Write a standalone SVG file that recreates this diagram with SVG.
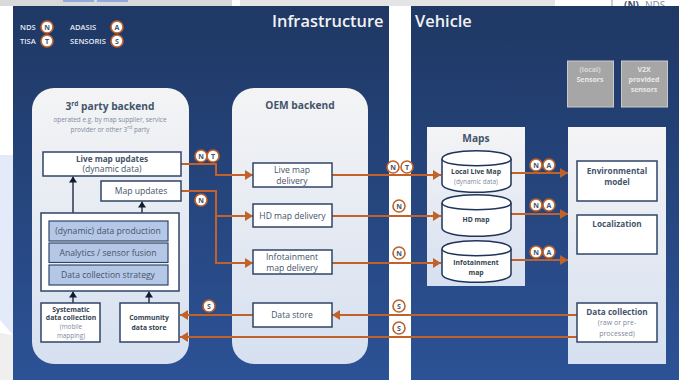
<svg xmlns="http://www.w3.org/2000/svg" width="679" height="380" viewBox="0 0 679 380">
<defs>
<linearGradient id="bg" x1="0" y1="0" x2="0" y2="1"><stop offset="0" stop-color="#1f3864"/><stop offset="1" stop-color="#2c5296"/></linearGradient>
<linearGradient id="pn" x1="0" y1="0" x2="0" y2="1"><stop offset="0" stop-color="#f4f4f5"/><stop offset="1" stop-color="#d6e0f0"/></linearGradient>
<marker id="oa" markerUnits="userSpaceOnUse" markerWidth="10" markerHeight="10" refX="8" refY="5" orient="auto"><path d="M0 0L8 5L0 10Z" fill="#c0622a"/></marker>
<marker id="ka" markerUnits="userSpaceOnUse" markerWidth="8" markerHeight="8" refX="6" refY="4" orient="auto"><path d="M0 0L6 4L0 8Z" fill="#111a2e"/></marker>
</defs>
<style>
text{font-family:"Open Sans","Liberation Sans",sans-serif;text-anchor:middle}
.panel{fill:url(#pn)}
.box{fill:#fff;stroke:#2f4468;stroke-width:1.5}
.bar{fill:#b4c7e7;stroke:#2f4468;stroke-width:1.2}
.t{font-size:8.6px;fill:#44546a}
.b{font-size:8.2px;fill:#44546a;font-weight:700}
.s{font-size:6.8px;fill:#333f50;font-weight:700}
.g{font-size:7px;fill:#7f8a9c}
.gs{font-size:6.4px;fill:#7f8a9c}
.h{font-size:10.2px;fill:#44546a;font-weight:700}
.w{font-size:16.400px;fill:#f2f2f2;font-weight:600;text-anchor:start}
.lg{font-size:7.6px;fill:#e7ebf3;font-weight:600;text-anchor:start}
.sn{fill:#a6a6a6;stroke:#c9c9c9}
.snt{font-size:7px;fill:#e8e8e8;font-weight:700}
.o{fill:none;stroke:#c0622a;stroke-width:2}
.k{fill:none;stroke:#111a2e;stroke-width:1.3;marker-end:url(#ka)}
.bd circle{fill:#fff;stroke:#c0622a;stroke-width:1.6}
.bd text{font-size:7px;font-weight:700;fill:#44546a}
.cyl{fill:#fff;stroke:#1f3458;stroke-width:1.5}
</style>
<rect width="679" height="380" fill="#fff"/>
<g id="page-edge">
<rect x="0" y="0" width="232" height="6" fill="#d9d9d9"/>
<rect x="240" y="0" width="315" height="6" fill="#e4e4e4"/>
<rect x="63" y="0" width="31" height="2" fill="#8faadc"/>
<rect x="97" y="0" width="31" height="2" fill="#8faadc"/>
<path d="M0 155H13V335L0 320Z" fill="#e3ebfb"/>
<path d="M0 333L13 335V380H0Z" fill="#efefef"/>
<text x="624" y="9" font-size="10" fill="#44546a" style="text-anchor:start;font-weight:700">(N)</text>
<text x="645" y="9" font-size="10" fill="#7f8a9c" style="text-anchor:start">NDS</text>
<path d="M612 0V6" stroke="#999" fill="none"/>
</g>
<g id="panels">
<rect x="13" y="6" width="376" height="374" fill="url(#bg)"/>
<rect x="411" y="6" width="268" height="374" fill="url(#bg)"/>
</g>
<g id="titles">
<text class="w" x="272" y="27">Infrastructure</text>
<text class="w" x="415" y="27">Vehicle</text>
</g>
<g id="legend">
<text class="lg" x="20" y="30">NDS</text>
<text class="lg" x="20" y="44">TISA</text>
<text class="lg" x="70" y="30">ADASIS</text>
<text class="lg" x="70" y="44">SENSORIS</text>
</g>
<g id="third-party-backend">
<rect class="panel" x="32" y="88" width="157" height="276" rx="22"/>
<text class="h" x="110" y="110">3<tspan font-size="6.500" dy="-4">rd</tspan><tspan dy="4"> party backend</tspan></text>
<text class="gs" x="110" y="122">operated e.g. by map supplier, service</text>
<text class="gs" x="110" y="132">provider or other 3<tspan font-size="5" dy="-3">rd</tspan><tspan dy="3"> party</tspan></text>
</g>
<g id="oem-backend">
<rect class="panel" x="232" y="88" width="136" height="276" rx="22"/>
<text class="h" x="300" y="109">OEM backend</text>
</g>
<g id="maps">
<rect class="panel" x="427" y="127" width="98" height="159"/>
<text class="h" x="476" y="142">Maps</text>
</g>
<g id="vehicle-functions"><rect class="panel" x="568" y="127" width="98" height="237"/></g>
<g id="local-sensors"><rect class="sn" x="567.500" y="61" width="46" height="46"/>
<text class="snt" x="590" y="72" opacity=".75">(local)</text><text class="snt" x="590" y="82">Sensors</text></g>
<g id="v2x-sensors"><rect class="sn" x="621.500" y="61" width="46" height="46"/>
<text class="snt" x="644" y="72">V2X</text><text class="snt" x="644" y="82">provided</text><text class="snt" x="644" y="92">sensors</text></g>
<g id="connectors">
<path class="o" d="M181 164H216V175H253" marker-end="url(#oa)"/>
<path class="o" d="M181 191H216V263H253" marker-end="url(#oa)"/>
<path class="o" d="M216 216H253" marker-end="url(#oa)"/>
<path class="o" d="M332 175H441" marker-end="url(#oa)"/>
<path class="o" d="M332 216H441" marker-end="url(#oa)"/>
<path class="o" d="M332 263H441" marker-end="url(#oa)"/>
<path class="o" d="M511 173H568" marker-end="url(#oa)"/>
<path class="o" d="M511 214H568" marker-end="url(#oa)"/>
<path class="o" d="M511 260H568" marker-end="url(#oa)"/>
<path class="o" d="M578 315H332" marker-end="url(#oa)"/>
<path class="o" d="M253 315H180" marker-end="url(#oa)"/>
<path class="o" d="M578 337H180" marker-end="url(#oa)"/>
<path class="k" d="M73 213V176.500"/>
<path class="k" d="M142 213V201.500"/>
<path class="k" d="M73 303V291.500"/>
<path class="k" d="M149 303V291.500"/>
</g>
<g id="live-map-updates"><rect class="box" x="43" y="152" width="138" height="24"/>
<text class="b" x="112" y="162">Live map updates</text><text class="t" x="112" y="172">(dynamic data)</text></g>
<g id="map-updates"><rect class="box" x="101" y="181" width="80" height="20"/><text class="t" x="141" y="194">Map updates</text></g>
<g id="data-stack"><rect class="box" x="41" y="213" width="138" height="78"/>
<rect class="bar" x="49" y="221" width="119" height="20"/><text class="t" x="108" y="234">(dynamic) data production</text>
<rect class="bar" x="49" y="243" width="119" height="19.500"/><text class="t" x="108" y="256">Analytics / sensor fusion</text>
<rect class="bar" x="49" y="265" width="119" height="20"/><text class="t" x="108" y="278">Data collection strategy</text></g>
<g id="systematic"><rect class="box" x="41" y="303" width="59" height="39"/>
<text class="s" x="71" y="312">Systematic</text><text class="s" x="71" y="320">data collection</text><text class="gs" x="71" y="329">(mobile</text><text class="gs" x="71" y="337.500">mapping)</text></g>
<g id="community"><rect class="box" x="120" y="303" width="59" height="39"/>
<text class="s" x="149" y="320">Community</text><text class="s" x="149" y="330">data store</text></g>
<g id="live-map-delivery"><rect class="box" x="253" y="163" width="79" height="24"/><text class="t" x="292" y="173">Live map</text><text class="t" x="292" y="184">delivery</text></g>
<g id="hd-map-delivery"><rect class="box" x="253" y="204" width="79" height="23"/><text class="t" x="292.500" y="219">HD map delivery</text></g>
<g id="infotainment-delivery"><rect class="box" x="253" y="250" width="79" height="24"/><text class="t" x="292" y="260">Infotainment</text><text class="t" x="292" y="271">map delivery</text></g>
<g id="data-store"><rect class="box" x="253" y="303" width="79" height="24"/><text class="t" x="292" y="318">Data store</text></g>
<g id="local-live-map"><path class="cyl" d="M442 159C442 148 511 148 511 159V184C511 195 442 195 442 184Z"/><path class="cyl" d="M442 159C442 168 511 168 511 159"/>
<text class="s" x="476" y="174">Local Live Map</text><text class="gs" x="476" y="184">(dynamic data)</text></g>
<g id="hd-map"><path class="cyl" d="M442 203C442 192 511 192 511 203V228C511 239 442 239 442 228Z"/><path class="cyl" d="M442 203C442 212 511 212 511 203"/><text class="s" x="476" y="222">HD map</text></g>
<g id="infotainment-map"><path class="cyl" d="M442 249C442 238 511 238 511 249V274C511 285 442 285 442 274Z"/><path class="cyl" d="M442 249C442 258 511 258 511 249"/><text class="s" x="476" y="265">Infotainment</text><text class="s" x="476" y="275">map</text></g>
<g id="environmental-model"><rect class="box" x="577" y="161" width="80" height="40"/><text class="b" x="617" y="174">Environmental</text><text class="b" x="617" y="185">model</text></g>
<g id="localization"><rect class="box" x="577" y="215" width="80" height="39"/><text class="b" x="617" y="227">Localization</text></g>
<g id="data-collection"><rect class="box" x="577" y="303" width="80" height="39"/><text class="b" x="617" y="315">Data collection</text><text class="g" x="617" y="325">(raw or pre-</text><text class="g" x="617" y="336">processed)</text></g>
<g id="badges" class="bd">
<circle cx="47" cy="27" r="6"/><text x="47" y="29.500">N</text>
<circle cx="47" cy="41" r="6"/><text x="47" y="43.500">T</text>
<circle cx="117" cy="27" r="6"/><text x="117" y="29.500">A</text>
<circle cx="117" cy="41" r="6"/><text x="117" y="43.500">S</text>
<circle cx="201" cy="156" r="6"/><text x="201" y="158.500">N</text>
<circle cx="213" cy="156" r="6"/><text x="213" y="158.500">T</text>
<circle cx="201" cy="200" r="6"/><text x="201" y="202.500">N</text>
<circle cx="209" cy="306" r="6"/><text x="209" y="308.500">S</text>
<circle cx="393" cy="167" r="6"/><text x="393" y="169.500">N</text>
<circle cx="407" cy="167" r="6"/><text x="407" y="169.500">T</text>
<circle cx="399" cy="206" r="6"/><text x="399" y="208.500">N</text>
<circle cx="399" cy="253" r="6"/><text x="399" y="255.500">N</text>
<circle cx="399" cy="306" r="6"/><text x="399" y="308.500">S</text>
<circle cx="399" cy="328" r="6"/><text x="399" y="330.500">S</text>
<circle cx="536" cy="165" r="6"/><text x="536" y="167.500">N</text>
<circle cx="549" cy="165" r="6"/><text x="549" y="167.500">A</text>
<circle cx="536" cy="205" r="6"/><text x="536" y="207.500">N</text>
<circle cx="549" cy="205" r="6"/><text x="549" y="207.500">A</text>
<circle cx="536" cy="252" r="6"/><text x="536" y="254.500">N</text>
<circle cx="549" cy="252" r="6"/><text x="549" y="254.500">A</text>
</g>
</svg>
